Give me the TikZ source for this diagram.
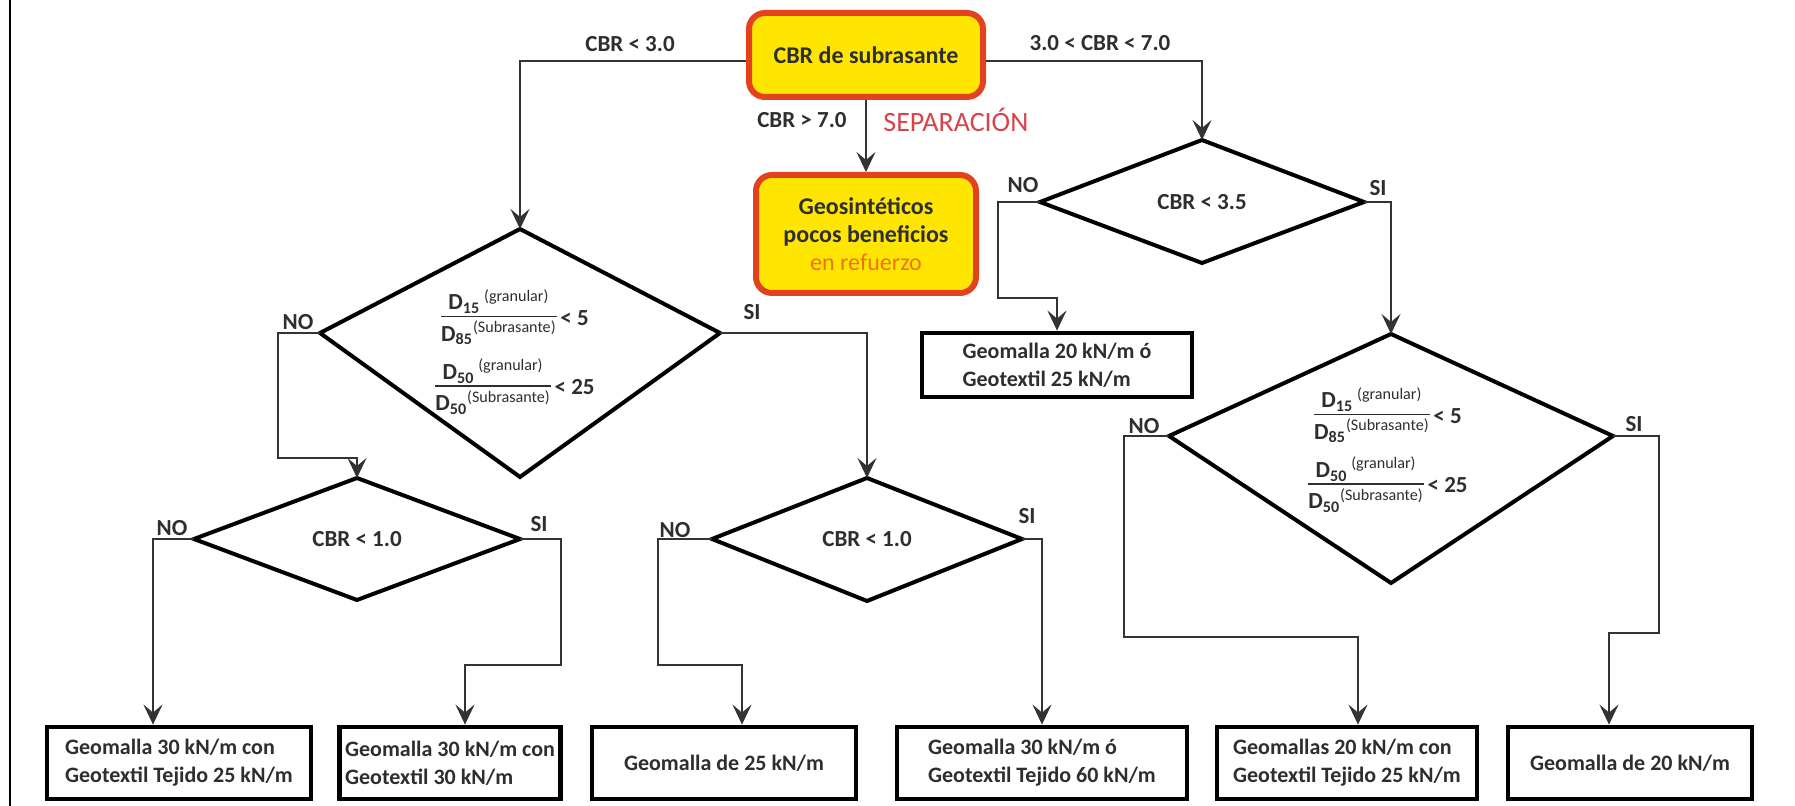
\documentclass[tikz,border=0pt]{standalone}
\usepackage{fontspec}
\setmainfont{Carlito}
\usetikzlibrary{arrows.meta}

\definecolor{amarillo}{HTML}{FFE600}
\definecolor{rojoborde}{HTML}{E2431E}
\definecolor{naranja}{HTML}{EE7318}
\definecolor{rojotexto}{HTML}{D8434A}
\definecolor{tinta}{HTML}{2E2E2E}

\setlength{\arrayrulewidth}{0.8pt}

\tikzset{
  caja/.style={draw=black, line width=2.4pt, fill=white, minimum height=36pt, inner sep=3pt,
    align=left, text=tinta, font=\fontsize{11}{14}\selectfont\bfseries},
  inicio/.style={draw=rojoborde, line width=3pt, fill=amarillo, rounded corners=8pt,
    align=center, text=tinta, font=\fontsize{12}{14}\selectfont\bfseries},
  decision/.style={draw=black, line width=2pt, line join=miter},
  flecha/.style={draw=black!80, line width=1.2pt, -{Stealth[length=10pt,width=9.5pt,inset=4pt]}},
  etiq/.style={text=tinta, font=\fontsize{11.5}{13}\selectfont\bfseries, inner sep=1pt},
}

% decision: name, x, y, half width, up, down
\newcommand{\rombo}[6]{%
  \coordinate (#1) at (#2,#3);
  \coordinate (#1-n) at (#2,{#3-#5});
  \coordinate (#1-s) at (#2,{#3+#6});
  \coordinate (#1-w) at ({#2-#4},#3);
  \coordinate (#1-e) at ({#2+#4},#3);
  \draw[decision] (#1-n) -- (#1-e) -- (#1-s) -- (#1-w) -- cycle;}

% ratio of grain sizes
\newcommand{\cociente}[5]{%
  \begin{tabular}[c]{@{}c@{}}
  D\textsubscript{#1}\,\textsuperscript{\mdseries #2}\\[-1pt]
  \hline
  \rule{0pt}{12pt}D\textsubscript{#3}\textsuperscript{\mdseries #4}
  \end{tabular}\,< #5}

\begin{document}
\begin{tikzpicture}[x=0.5pt, y=-0.5pt]
\useasboundingbox (0,0) rectangle (1795,806);
% frame
\draw[line width=1.2pt] (10,0) -- (10,806);

% start
\node[inicio, minimum width=117pt, minimum height=42pt] (cbr) at (866,55) {CBR de subrasante};
\node[inicio, minimum width=110pt, minimum height=59pt] (geo) at (866,234)
  {Geosintéticos\\pocos beneficios\\\textcolor{naranja}{\mdseries en refuerzo}};
\node[etiq] (l1) at (630,44) {CBR < 3.0};
\node[etiq] (l2) at (1100,43) {3.0 < CBR < 7.0};
\node[etiq, anchor=east] (l3) at (849,120) {CBR > 7.0};
\node[etiq, anchor=west, text=rojotexto, font=\fontsize{14}{16}\selectfont] (l4) at (881,120) {SEPARACIÓN};

% decisions
\rombo{d1}{520}{333}{200}{104}{144}
\rombo{d2}{1202}{202}{162}{62}{61}
\rombo{d3}{1391}{436}{222}{102}{147}
\rombo{d4}{357}{539}{163}{61}{61}
\rombo{d5}{867}{539}{155}{61}{62}

\node[etiq] (t2) at (d2) {CBR < 3.5};
\node[etiq] (t4) at (d4) {CBR < 1.0};
\node[etiq] (t5) at (d5) {CBR < 1.0};
\node[etiq, align=center] (t1) at (515,354)
  {\cociente{15}{(granular)}{85}{(Subrasante)}{5}\\[4pt]\cociente{50}{(granular)}{50}{(Subrasante)}{25}};
\node[etiq, align=center] (t3) at (1388,452)
  {\cociente{15}{(granular)}{85}{(Subrasante)}{5}\\[4pt]\cociente{50}{(granular)}{50}{(Subrasante)}{25}};

% NO / SI
\foreach \n/\x/\y/\txt in {n1/298/322/NO, s1/752/312/SI, n2/1023/185/NO, s2/1378/188/SI,
    n3/1144/426/NO, s3/1634/424/SI, n4/172/528/NO, s4/539/524/SI, n5/675/530/NO, s5/1027/516/SI} {
  \node[etiq] (\n) at (\x,\y) {\txt};
}

% results
\node[caja, minimum width=135pt, minimum height=32pt] (b0) at (1057,365) {Geomalla 20 kN/m ó\\Geotextil 25 kN/m};
\foreach \n/\x/\w/\txt in {b1/179/132/{Geomalla 30 kN/m con\\Geotextil Tejido 25 kN/m},
    b2/450/110/{Geomalla 30 kN/m con\\Geotextil 30 kN/m},
    b3/724/132/{Geomalla de 25 kN/m},
    b4/1042/145/{Geomalla 30 kN/m ó\\Geotextil Tejido 60 kN/m},
    b5/1347/130/{Geomallas 20 kN/m con\\Geotextil Tejido 25 kN/m},
    b6/1630/122/{Geomalla de 20 kN/m}} {
  \node[caja, minimum width=\w pt] (\n) at (\x,763) {\txt};
}

% connectors
\draw[flecha] ([yshift=-3pt]cbr.west) -| (d1-n);
\draw[flecha] ([yshift=-3pt]cbr.east) -| (d2-n);
\draw[flecha] (cbr.south) -- (geo.north);
\draw[flecha] (d1-w) -- ++(-42,0) -- ++(0,125) -| (d4-n);
\draw[flecha] (d1-e) -| (d5-n);
\draw[flecha] (d2-w) -- ++(-42,0) -- ++(0,96) -| (b0.north);
\draw[flecha] (d2-e) -| (d3-n);
\draw[flecha] (d4-w) -- ++(-41,0) coordinate (c1) -- (c1 |- b1.north);
\draw[flecha] (d4-e) -- ++(41,0) -- ++(0,126) -- ++(-96,0) coordinate (c2) -- (c2 |- b2.north);
\draw[flecha] (d5-w) -- ++(-54,0) -- ++(0,126) -- ++(84,0) coordinate (c3) -- (c3 |- b3.north);
\draw[flecha] (d5-e) -| (b4.north);
\draw[flecha] (d3-w) -- ++(-45,0) -- ++(0,201) -- ++(234,0) coordinate (c4) -- (c4 |- b5.north);
\draw[flecha] (d3-e) -- ++(46,0) -- ++(0,197) -- ++(-50,0) coordinate (c5) -- (c5 |- b6.north);
\end{tikzpicture}
\end{document}
